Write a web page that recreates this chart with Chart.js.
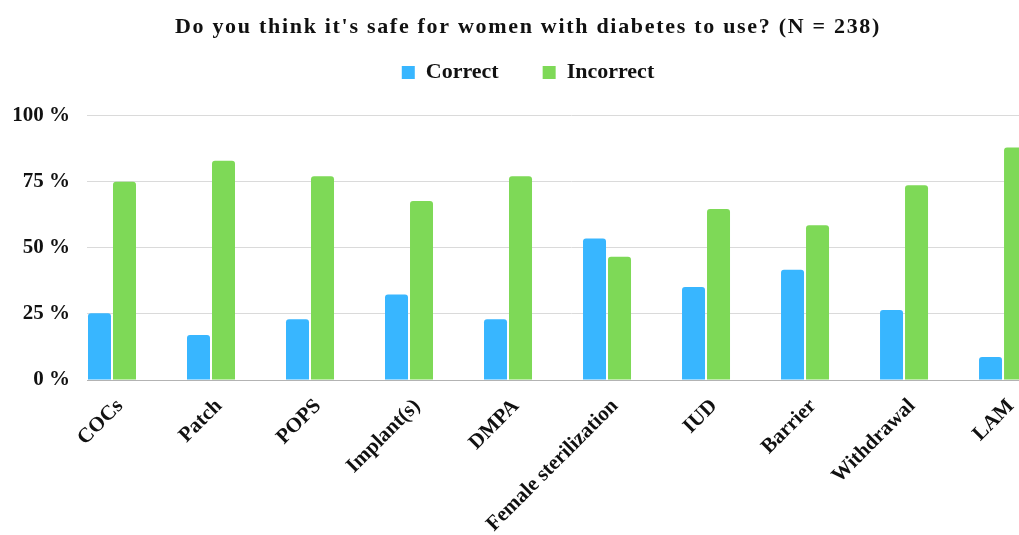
<!DOCTYPE html>
<html>
<head>
<meta charset="utf-8">
<title>Safe for women with diabetes</title>
<script src="https://cdn.jsdelivr.net/npm/chart.js@4.4.1/dist/chart.umd.min.js"></script>
<style>
    html, body { margin: 0; padding: 0; background: #fff; overflow: hidden; }
    #wrap { position: relative; width: 1056px; height: 535px; }
</style>
</head>
<body>
<div id="wrap"><canvas id="safeChart"></canvas></div>
<script>
const methods = ['COCs', 'Patch', 'POPS', 'Implant(s)', 'DMPA', 'Female sterilization', 'IUD', 'Barrier', 'Withdrawal', 'LAM'];
const correct = [25.2, 17.0, 22.9, 32.3, 22.9, 53.4, 35.1, 41.6, 26.4, 8.7];
const incorrect = [74.8, 82.8, 76.9, 67.6, 76.9, 46.5, 64.6, 58.4, 73.5, 87.8];
const yTicks = [0, 25, 50, 75, 100];

const serif = "'Liberation Serif', 'Times New Roman', serif";
const ink = '#111111';

function toPoints(values) {
    return values.map((v, i) => ({ x: i, y: v }));
}

// the title in the picture is tracked out a bit, so space its letters
const titleSpacing = {
    id: 'titleSpacing',
    beforeDraw(chart) {
        const block = chart.titleBlock;
        if (!block || block._spaced) return;
        const drawTitle = block.draw.bind(block);
        block.draw = function (area) {
            chart.ctx.save();
            chart.ctx.letterSpacing = '1.7px';
            drawTitle(area);
            chart.ctx.restore();
        };
        block._spaced = true;
    }
};

const ctx = document.getElementById('safeChart').getContext('2d');

new Chart(ctx, {
    type: 'bar',
    data: {
        datasets: [
            {
                label: 'Correct',
                data: toPoints(correct),
                backgroundColor: '#38b6ff',
                borderRadius: 3,
                categoryPercentage: 0.505,
                barPercentage: 0.92
            },
            {
                label: 'Incorrect',
                data: toPoints(incorrect),
                backgroundColor: '#7ed957',
                borderRadius: 3,
                categoryPercentage: 0.505,
                barPercentage: 0.92
            }
        ]
    },
    options: {
        responsive: true,
        maintainAspectRatio: false,
        animation: false,
        layout: { padding: 0 },
        plugins: {
            title: {
                display: true,
                text: "Do you think it's safe for women with diabetes to use? (N = 238)",
                color: ink,
                font: { family: serif, size: 22, weight: 'bold', lineHeight: 1.2 },
                padding: { top: 14, bottom: -23 }
            },
            legend: {
                display: true,
                labels: {
                    color: ink,
                    boxWidth: 13,
                    boxHeight: 13,
                    padding: 44,
                    font: { family: serif, size: 22, weight: 'bold' }
                }
            },
            tooltip: { enabled: false }
        },
        scales: {
            x: {
                type: 'linear',
                offset: false,
                min: -0.2525,
                max: 9.535,
                grid: { display: false, drawTicks: false, offset: false },
                border: { display: true, color: '#b3b3b3', width: 1 },
                ticks: {
                    stepSize: 1,
                    includeBounds: false,
                    autoSkip: false,
                    minRotation: 45,
                    maxRotation: 45,
                    padding: 14,
                    labelOffset: 8,
                    color: ink,
                    font: { family: serif, size: 21, weight: 'bold' },
                    callback: (value) => methods[value] ?? ''
                },
                afterFit: (axis) => { axis.height = 155; }
            },
            y: {
                min: 0,
                max: 108.2,
                grid: { color: '#dadada', lineWidth: 1, drawTicks: false },
                border: { display: false },
                ticks: {
                    stepSize: 25,
                    includeBounds: false,
                    padding: 17,
                    color: ink,
                    font: { family: serif, size: 21, weight: 'bold' },
                    callback: (value) => yTicks.includes(value) ? value + ' %' : ''
                },
                afterFit: (axis) => { axis.width = 87; }
            }
        }
    },
    plugins: [titleSpacing]
});
</script>
</body>
</html>
